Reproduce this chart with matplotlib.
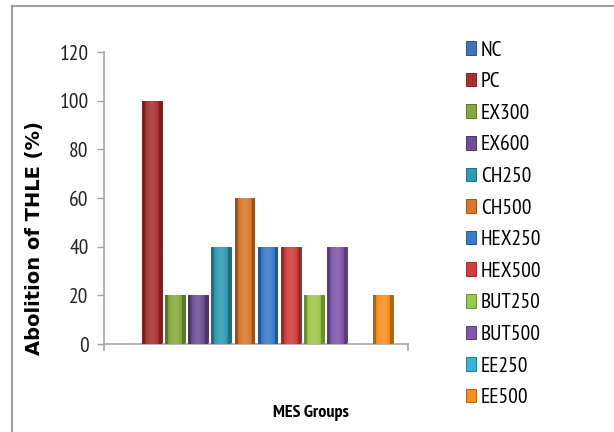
import matplotlib
matplotlib.use("Agg")
import numpy as np
import matplotlib.pyplot as plt
from matplotlib.patches import Patch
from matplotlib.lines import Line2D
from matplotlib.colors import to_rgb

# Abolition of THLE per MES group
groups = ["NC", "PC", "EX300", "EX600", "CH250", "CH500",
          "HEX250", "HEX500", "BUT250", "BUT500", "EE250", "EE500"]
abolition = [0, 100, 20, 20, 40, 60, 40, 40, 20, 40, 0, 20]
colors = ["#3f74b8", "#a83232", "#87a83e", "#6c4f94", "#2f9ab4", "#d9772b",
          "#3a7cc8", "#d23e3e", "#9cc84b", "#8057ad", "#38b3d3", "#f7901e"]

narrow = ["PT Sans Narrow", "DejaVu Sans"]


def shade(c, f):
    r = np.array(to_rgb(c))
    if f < 0:
        return tuple(r * (1 + f))
    return tuple(r + (1 - r) * f)


fig = plt.figure(figsize=(6.14, 4.32), dpi=100)
ax = fig.add_axes([0.1694, 0.2037, 0.4951, 0.6759])

x = np.arange(len(groups))
bars = ax.bar(x, abolition, width=0.86, color=colors,
              edgecolor=[shade(c, -0.3) for c in colors], linewidth=0.7, zorder=2)

# give each bar a soft cylinder-like shading across its width
prof = np.linspace(-1, 1, 40)
for b, c in zip(bars, colors):
    if b.get_height() <= 0:
        continue
    strip = np.array([shade(c, 0.12 - 0.35 * p ** 2) if p < 0.7 else shade(c, -0.3)
                      for p in np.abs(prof)])
    img = ax.imshow(strip[np.newaxis, :, :], aspect="auto", zorder=3,
                    extent=(b.get_x(), b.get_x() + b.get_width(), 0, b.get_height()))
    img.set_clip_path(b)

ax.set_xlim(-1.08, 12.08)
ax.set_ylim(0, 120)
ax.set_yticks([0, 20, 40, 60, 80, 100, 120])
ax.set_xticks([])
for lbl in ax.get_yticklabels():
    lbl.set_fontfamily(narrow)
    lbl.set_fontsize(15.5)
    lbl.set_color("#222222")
ax.tick_params(axis="y", length=5, color="#a0a0a0", width=1, pad=6)

for side in ["top", "right"]:
    ax.spines[side].set_visible(False)
for side in ["left", "bottom"]:
    ax.spines[side].set_color("#a6a6a6")
    ax.spines[side].set_linewidth(1.2)

# small end ticks hanging below the category axis
for xe in (-1.08, 12.08):
    ax.plot([xe, xe], [0, -2.5], color="#a6a6a6", lw=1.2, clip_on=False)

fig.text(35 / 614, 1 - 238 / 432, "Abolition of THLE (%)", rotation=90,
         ha="center", va="center", fontsize=14, fontweight="bold",
         fontfamily="DejaVu Sans")
fig.text(311 / 614, 1 - 413 / 432, "MES Groups", ha="center", va="center",
         fontsize=13, fontweight="bold", fontfamily=narrow)

handles = [Patch(facecolor=c, edgecolor=shade(c, -0.3), linewidth=0.7) for c in colors]
leg = fig.legend(handles, groups, loc="upper left",
                 bbox_to_anchor=(457 / 614, 1 - 32 / 432),
                 frameon=False, prop={"family": narrow, "size": 15.5},
                 handlelength=0.5, handleheight=0.6, handletextpad=0.2,
                 labelspacing=0.585, borderaxespad=0)

# outer chart frame
fig.add_artist(Line2D([12 / 614, 12 / 614], [0, 1 - 6 / 432],
                      transform=fig.transFigure, color="#8c8c8c", lw=1.2))
fig.add_artist(Line2D([12 / 614, 1], [1 - 6 / 432, 1 - 6 / 432],
                      transform=fig.transFigure, color="#8c8c8c", lw=1.2))

fig.savefig("out.png", dpi=100)
